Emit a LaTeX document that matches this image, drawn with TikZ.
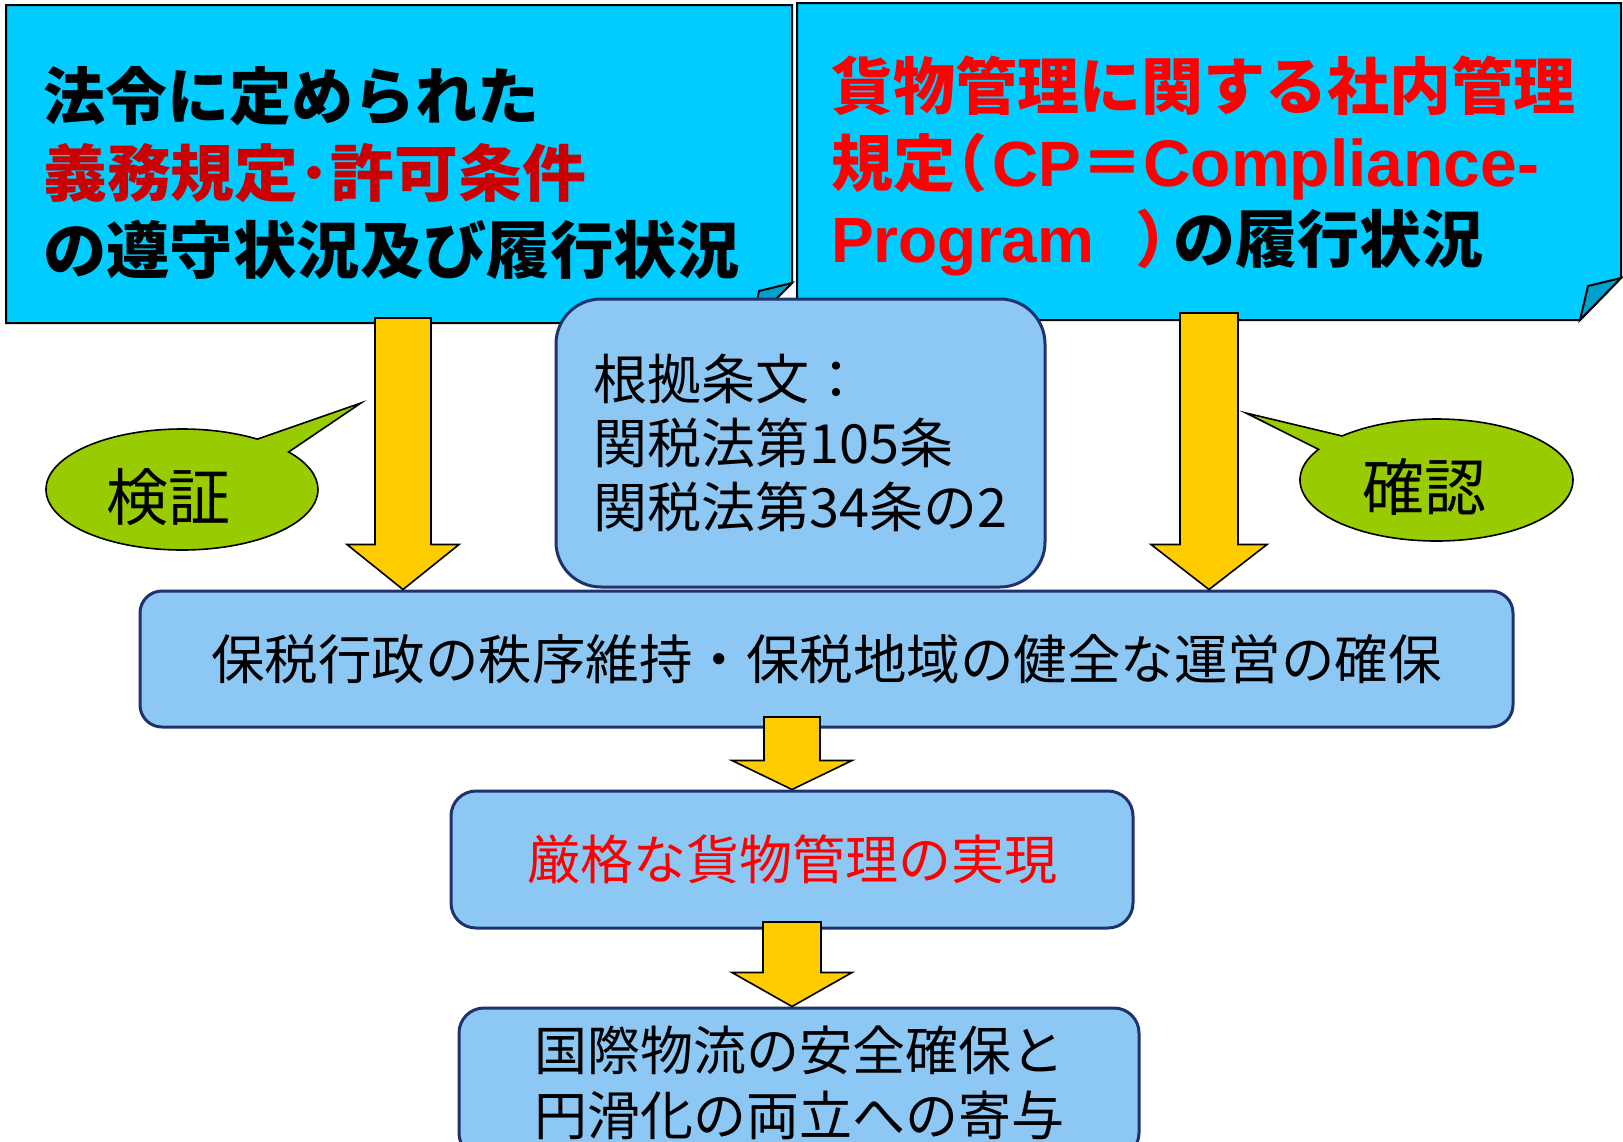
\documentclass[tikz,border=0pt]{standalone}
\usepackage{fontspec}
\usetikzlibrary{shapes.callouts,calc}
\newfontfamily\jp{Noto Sans CJK JP}
\newfontfamily\lat{Liberation Sans}
\newcommand{\latb}{\lat\bfseries\fontsize{64}{64}\selectfont}
\newcommand{\latc}{\lat\bfseries\fontsize{66}{66}\selectfont}
\definecolor{topcyan}{RGB}{0,204,255}
\definecolor{flapblue}{RGB}{0,160,204}
\definecolor{boxblue}{RGB}{141,200,245}
\definecolor{navy}{RGB}{31,50,110}
\definecolor{arrowyel}{RGB}{255,204,0}
\definecolor{bubgreen}{RGB}{153,204,0}
\definecolor{darkred}{RGB}{204,0,0}
\definecolor{brightred}{RGB}{255,0,0}
\newcommand{\blockarrow}[5]{%
  \draw[yarrow] let \p1=(#1), \p2=(#2) in
    (\x1-#3,\y1) -- (\x1+#3,\y1) -- (\x1+#3,\y2+#5) -- (\x1+#4,\y2+#5) --
    (\x1,\y2) -- (\x1-#4,\y2+#5) -- (\x1-#3,\y2+#5) -- cycle;}
\begin{document}
\begin{tikzpicture}[x=1pt,y=-1pt,
  topbox/.style={draw=black,line width=2pt,fill=topcyan,line join=miter},
  flap/.style={draw=black,line width=2pt,fill=flapblue,line join=miter},
  rbox/.style={draw=navy,line width=3pt,fill=boxblue,inner sep=0pt,font=\jp\fontsize{53}{53}\selectfont},
  yarrow/.style={draw=black,line width=1.6pt,fill=arrowyel,line join=miter},
  bubble/.style={ellipse callout,draw=black,line width=1.6pt,fill=bubgreen,inner sep=0pt},
  btext/.style={inner sep=0pt,font=\jp\fontsize{62}{62}\selectfont},
  tl/.style={inner sep=0pt,anchor=base west,font=\jp\bfseries\fontsize{62}{62}\selectfont}]
\clip (0,0) rectangle (1623,1141);
\fill[white] (0,0) rectangle (1623,1141);
% top boxes
\draw[topbox] (6,5) -- (792,5) -- (792,283) -- (752,323) -- (6,323) -- cycle;
\draw[flap] (752,323) -- (759,291) -- (792,283) -- cycle;
\draw[topbox] (797,3) -- (1621,3) -- (1621,278) -- (1580,320) -- (797,320) -- cycle;
\draw[flap] (1580,320) -- (1588,286) -- (1621,278) -- cycle;
\node[tl] (l1) at (43,119) {法令に定められた};
\node[tl,text=darkred] (l2) at (43,196) {\scalebox{1.03}[1]{義務規定･許可条件}};
\node[tl] (l3) at (43,273) {\scalebox{1.022}[1]{の遵守状況及び履行状況}};
\node[tl,text=brightred] (r1) at (831,109) {貨物管理に関する社内管理};
\node[tl,text=brightred] (r2) at (831,186) {規定\kern-30pt（\kern5pt{\latb CP}＝{\latc Compliance-}};
\node[tl,text=brightred] (r3) at (831,262) {{\latb Program}\hspace{41pt}）\kern-24pt{\color{black}の履行状況}};
% boxes
\node[rbox,rounded corners=45pt,minimum width=489pt,minimum height=288pt,align=left,
      font=\jp\fontsize{54}{64}\selectfont] (cb) at (800.5,443)
      {根拠条文：\\関税法第105条\\関税法第34条の2};
\node[rbox,rounded corners=22pt,minimum width=1373pt,minimum height=136pt,
      font=\jp\fontsize{53.5}{53.5}\selectfont] (wb) at (826.5,659)
      {保税行政の秩序維持・保税地域の健全な運営の確保};
\node[rbox,rounded corners=25pt,minimum width=682pt,minimum height=137pt,text=brightred] (mb) at (792,859.5)
      {厳格な貨物管理の実現};
\node[rbox,rounded corners=25pt,minimum width=680pt,minimum height=150pt,align=center,
      font=\jp\fontsize{53}{65}\selectfont] (bb) at (799,1083)
      {国際物流の安全確保と\\円滑化の両立への寄与};
% arrows
\coordinate (a1s) at (403,318);
\coordinate (a2s) at (1209,313);
\coordinate (a3s) at (792,717);
\coordinate (a4s) at (792,922);
\blockarrow{a1s}{wb.north -| a1s}{28}{56}{45}
\blockarrow{a2s}{wb.north -| a2s}{29}{58}{45}
\blockarrow{a3s}{mb.north -| a3s}{28}{60}{29}
\blockarrow{a4s}{bb.north -| a4s}{29}{60}{34}
% bubbles
\node[bubble,minimum width=272pt,minimum height=121pt,callout absolute pointer={(361,403)},callout pointer arc=18] (kv) at (182,489.5) {};
\node[btext] (kvt) at (168,497) {検証};
\node[bubble,minimum width=273pt,minimum height=122pt,callout absolute pointer={(1246,413)},callout pointer arc=16] (kn) at (1436.5,480) {};
\node[btext] (knt) at (1424,487) {確認};
\end{tikzpicture}
\end{document}
